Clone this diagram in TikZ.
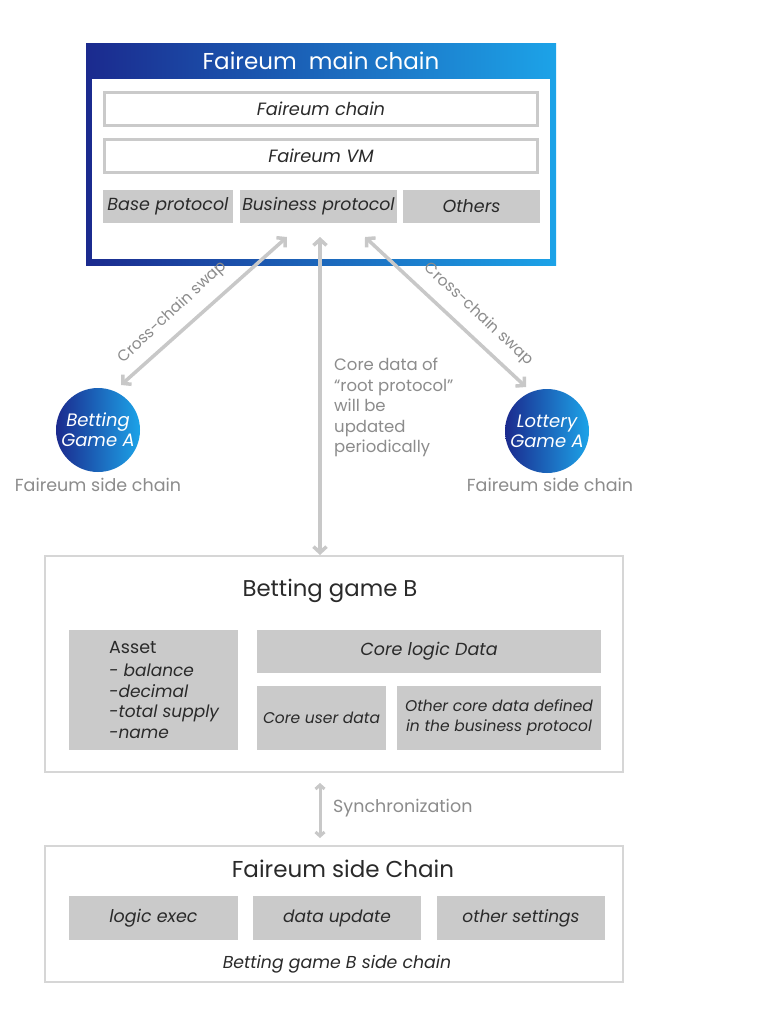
\documentclass[tikz,border=0pt]{standalone}
\usepackage{fontspec}
\setmainfont{Poppins}
\usetikzlibrary{arrows.meta}
\definecolor{dblue}{HTML}{1B2A8E}
\definecolor{lblue}{HTML}{1CA3E8}
\definecolor{boxgray}{HTML}{CACACA}
\definecolor{linegray}{HTML}{D6D6D6}
\definecolor{arrgray}{HTML}{C8C8C8}
\definecolor{txtgray}{HTML}{8C8C8C}
\definecolor{txtdark}{HTML}{2A2A2A}
\tikzset{
  fs/.style={font=\fontsize{#1}{#1}\selectfont},
  whitebox/.style={draw=boxgray, line width=3pt, fill=white, inner sep=0pt, text=txtdark},
  graybox/.style={fill=boxgray, inner sep=0pt, text=txtdark, align=center},
  frame/.style={draw=linegray, line width=2pt, fill=white, inner sep=0pt},
  dblarrow/.style={draw=arrgray, line width=3.5pt, {Straight Barb[length=6pt,width=13pt]}-{Straight Barb[length=6pt,width=13pt]}},
  gamecircle/.style={circle, minimum size=84pt, inner sep=0pt, left color=dblue, right color=lblue, text=white, align=center},
  graytext/.style={text=txtgray, inner sep=0pt},
}
\begin{document}
\begin{tikzpicture}[x=1pt,y=-1pt]
\useasboundingbox (0,0) rectangle (768,1020);
\fill[white] (0,0) rectangle (768,1020);

% main chain frame
\node[left color=dblue, right color=lblue, minimum width=470pt, minimum height=222pt, inner sep=0pt] (main) at (321,154) {};
\node[fill=white, minimum width=458pt, minimum height=180pt, inner sep=0pt] (mainin) at (321,169) {};
\node[text=white, fs=23, inner sep=0pt] (maintitle) at (321,61) {Faireum\ \ main chain};

\node[whitebox, minimum width=433pt, minimum height=33pt, fs=17.8] (fchain) at (321,109) {\itshape Faireum chain};
\node[whitebox, minimum width=433pt, minimum height=33pt, fs=17.8] (fvm) at (321,156) {\itshape Faireum VM};
\node[graybox, minimum width=130pt, minimum height=33pt, fs=17.5] (base) at (168,206.5) {\itshape Base protocol};
\node[graybox, minimum width=157pt, minimum height=33pt, fs=17.3] (business) at (318.5,206.5) {\itshape Business protocol};
\node[graybox, minimum width=137pt, minimum height=33pt, fs=17.5] (others) at (471.5,206.5) {\itshape Others};

% side chains
\node[gamecircle, font=\fontsize{18}{20}\selectfont] (betA) at (98,430) {\itshape Betting\\\itshape Game A};
\node[gamecircle, font=\fontsize{18}{20}\selectfont] (lotA) at (547,431) {\itshape Lottery\\\itshape Game A};
\node[graytext, fs=17.5] (betAlbl) at (98,485) {Faireum side chain};
\node[graytext, fs=17.5] (lotAlbl) at (550,485) {Faireum side chain};

% arrows to main chain
\coordinate (tipL) at (287,237);
\coordinate (tipM) at (320,237);
\coordinate (tipR) at (365,237);
\coordinate (endL) at (121,385);
\coordinate (endR) at (526,387);
\draw[dblarrow] (endL) -- (tipL);
\draw[dblarrow] (endR) -- (tipR);
\node[graytext, fs=15.5, rotate=43] (ccsL) at (172.5,312.5) {Cross-chain swap};
\node[graytext, fs=15.5, rotate=-43] (ccsR) at (478.5,314.5) {Cross-chain swap};

\node[graytext, align=left, anchor=north west, font=\fontsize{16.5}{20.5}\selectfont] (coretxt) at (334,358) {Core data of\\``root protocol''\\will be\\updated\\periodically};

% Betting game B
\node[frame, minimum width=578pt, minimum height=216pt] (gameB) at (334,664) {};
\draw[dblarrow] (tipM) -- (gameB.north -| tipM);
\node[text=txtdark, fs=22.8, inner sep=0pt] (gameBt) at (330,591) {Betting game B};
\node[graybox, minimum width=169pt, minimum height=120pt] (asset) at (153.5,690) {};
\node[text=txtdark, anchor=west, inner sep=0pt, fs=17.5] (assettxt) at (109,648) {Asset};
\node[text=txtdark, anchor=north west, inner sep=0pt, align=left, font=\fontsize{17}{20.5}\selectfont] (assetlist) at (109,664) {\itshape - balance\\\itshape -decimal\\\itshape -total supply\\\itshape -name};
\node[graybox, minimum width=344pt, minimum height=43pt, fs=17.5] (corelogic) at (429,651.5) {\itshape Core logic Data};
\node[graybox, minimum width=129pt, minimum height=64pt, fs=15.5] (coreuser) at (321.5,718) {\itshape Core user data};
\node[graybox, minimum width=204pt, minimum height=64pt, font=\fontsize{15.5}{20}\selectfont] (othercore) at (499,718) {\itshape Other core data defined\\\itshape in the business protocol};

% Faireum side Chain
\node[frame, minimum width=578pt, minimum height=136pt] (sideB) at (334,914) {};
\coordinate (syncTop) at (320,783);
\coordinate (syncBot) at (320,838);
\draw[draw=arrgray, line width=3pt, {Straight Barb[length=4pt,width=9pt]}-{Straight Barb[length=4pt,width=9pt]}] (syncTop) -- (syncBot);
\node[graytext, fs=17.5, anchor=west] (synctxt) at (333,808) {Synchronization};
\node[text=txtdark, fs=23, inner sep=0pt] (sideBt) at (343,869) {Faireum side Chain};
\node[graybox, minimum width=169pt, minimum height=44pt, fs=17.5] (logic) at (153.5,918) {\itshape logic exec};
\node[graybox, minimum width=168pt, minimum height=44pt, fs=17] (dataup) at (337,918) {\itshape data update};
\node[graybox, minimum width=168pt, minimum height=44pt, fs=17] (otherset) at (521,918) {\itshape other settings};
\node[text=txtdark, fs=17.3, inner sep=0pt] (sideBsub) at (337,964) {\itshape Betting game B side chain};
\end{tikzpicture}
\end{document}
